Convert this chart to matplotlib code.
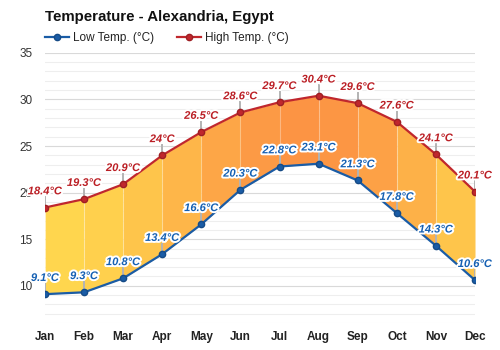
import numpy as np
import matplotlib.pyplot as plt
import matplotlib.patheffects as pe
from matplotlib.colors import to_rgb

plt.rcParams['font.family'] = ['Liberation Sans', 'DejaVu Sans']

months = ['Jan', 'Feb', 'Mar', 'Apr', 'May', 'Jun', 'Jul', 'Aug', 'Sep', 'Oct', 'Nov', 'Dec']
low_temps = [9.1, 9.3, 10.8, 13.4, 16.6, 20.3, 22.8, 23.1, 21.3, 17.8, 14.3, 10.6]
high_temps = [18.4, 19.3, 20.9, 24, 26.5, 28.6, 29.7, 30.4, 29.6, 27.6, 24.1, 20.1]

low_color = '#1a5ca6'
high_color = '#c0272d'
cool_fill = np.array(to_rgb('#ffd64e'))
warm_fill = np.array(to_rgb('#fc9444'))

x = np.arange(len(months))

fig = plt.figure(figsize=(5, 3.5), dpi=100)
ax = fig.add_axes([0.09, 0.077, 0.86, 0.772])

# grid: light lines every degree, stronger ones every 5
for v in range(6, 36):
    ax.axhline(v, color='#d9d9d9' if v % 5 == 0 else '#eeeeee', lw=0.8, zorder=0)

# fill between the lines, each month segment shaded by its mean temperature
for i in range(len(x) - 1):
    mean_t = (low_temps[i] + low_temps[i + 1] + high_temps[i] + high_temps[i + 1]) / 4
    t = np.clip((mean_t - 14.0) / (26.5 - 14.0), 0, 1)
    col = cool_fill * (1 - t) + warm_fill * t
    ax.fill_between(x[i:i + 2], low_temps[i:i + 2], high_temps[i:i + 2],
                    color=col, lw=0, zorder=1)

# faint month dividers inside the band
for i in x:
    ax.plot([i, i], [low_temps[i], high_temps[i]], color='white', alpha=0.3, lw=0.8, zorder=2)

# stems from points up to the value labels
for i in x:
    ax.plot([i, i], [low_temps[i], low_temps[i] + 1.1], color='#b3b3b3', lw=1.4, zorder=2)
    ax.plot([i, i], [high_temps[i], high_temps[i] + 1.1], color='#b3b3b3', lw=1.4, zorder=2)

ax.plot(x, low_temps, color=low_color, lw=1.6, marker='o', ms=4.5,
        mec='#164b86', mfc=low_color, zorder=3, label='Low Temp. (°C)')
ax.plot(x, high_temps, color=high_color, lw=1.6, marker='o', ms=4.5,
        mec='#9e1f24', mfc=high_color, zorder=3, label='High Temp. (°C)')

outline = [pe.withStroke(linewidth=2.8, foreground='white')]
for i in x:
    lo = low_temps[i]
    hi = high_temps[i]
    ax.annotate(f'{lo:g}°C', (i, lo), xytext=(0, 9.5), textcoords='offset points',
                ha='center', va='baseline', fontsize=8, fontweight='bold', fontstyle='italic',
                color='#1560b3', path_effects=outline, zorder=4)
    ax.annotate(f'{hi:g}°C', (i, hi), xytext=(0, 9.5), textcoords='offset points',
                ha='center', va='baseline', fontsize=8, fontweight='bold', fontstyle='italic',
                color='#bb1f25', path_effects=outline, zorder=4)

ax.set_xlim(0, 11)
ax.set_ylim(6, 35)
ax.set_yticks([10, 15, 20, 25, 30, 35])
ax.set_xticks(x)
ax.set_xticklabels(months, fontweight='bold', fontsize=8.5, color='#222222')
ax.tick_params(axis='y', labelsize=8.5, colors='#333333', length=0, pad=9)
ax.tick_params(axis='x', length=0, pad=6)
for s in ax.spines.values():
    s.set_visible(False)

fig.text(0.09, 0.952, 'Temperature - Alexandria, Egypt', fontsize=10.8,
         fontweight='bold', color='#111111', va='center')
fig.legend(loc='center left', bbox_to_anchor=(0.09, 0.891), ncol=2, frameon=False,
           fontsize=8.5, handlelength=2.0, columnspacing=1.9, handletextpad=0.4,
           borderpad=0, borderaxespad=0, labelcolor='#222222')

plt.savefig('out.png')
